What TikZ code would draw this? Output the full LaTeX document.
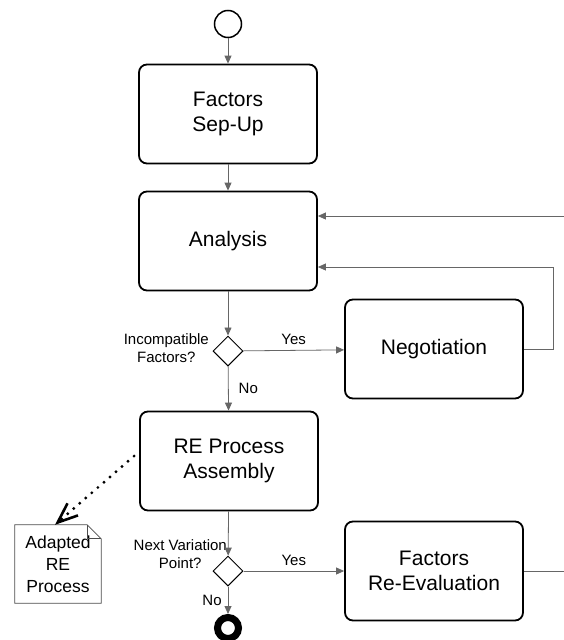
\documentclass[tikz,border=0pt]{standalone}
\usepackage{fontspec}
\setmainfont{Liberation Sans}
\usetikzlibrary{arrows.meta,shapes.geometric}
\begin{document}
\begin{tikzpicture}[x=1pt, y=-1pt, >={Triangle[length=8pt,width=7pt]}]
\useasboundingbox (0,0) rectangle (564,640);
\tikzstyle{every node} = [align=center, font=\fontsize{21}{25}\selectfont]
\tikzstyle{task} = [draw=black, line width=1.8pt, rounded corners=8pt, minimum width=178pt, minimum height=99pt, inner sep=0pt]
\tikzstyle{gate} = [draw=black, line width=1pt, diamond, minimum size=30pt, inner sep=0pt]
\tikzstyle{flow} = [->, draw=black!60, line width=0.8pt]
\tikzstyle{lbl} = [font=\fontsize{15}{18}\selectfont, inner sep=2pt]
\node[circle, draw, line width=1.5pt, minimum size=27pt, inner sep=0pt] (0) at (228,24) {};
\node[task] (1) at (228,114) {Factors\\Sep-Up};
\node[task] (2) at (228,241) {Analysis};
\node[gate] (3) at (228,351) {};
\node[task] (4) at (434,349) {Negotiation};
\node[task] (5) at (229,461) {RE Process\\Assembly};
\node[gate] (6) at (228,571) {};
\node[task] (7) at (434,571) {Factors\\Re-Evaluation};
\node[circle, draw, line width=7pt, minimum size=21pt, inner sep=0pt] (8) at (228,628) {};
\node[minimum width=86pt, minimum height=78pt, inner sep=0pt, font=\fontsize{17.5}{22}\selectfont] (9) at (58,564) {Adapted\\RE\\Process};
\node[lbl, anchor=east] (3l) at (211,348) {Incompatible\\Factors?};
\node[lbl, anchor=east] (6l) at (229,554) {Next Variation\\Point?};
\coordinate (r1) at (564,216);
\coordinate (r2) at (564,571);
\draw[black!70, line width=0.8pt] (9.south west) -- (9.north west) -- ([xshift=-14pt]9.north east) -- ([yshift=-14pt]9.north east) -- (9.south east) -- cycle;
\draw[black!70, line width=0.8pt] ([xshift=-14pt]9.north east) -- ([xshift=-14pt,yshift=-14pt]9.north east) -- ([yshift=-14pt]9.north east);
\draw[flow] (0) -- (1);
\draw[flow] (1) -- (2);
\draw[flow] (2) -- (3);
\draw[flow] (3) -- node[lbl, above=3pt]{Yes} (4);
\draw[flow] (3) -- node[lbl, right=8pt]{No} (5);
\draw[flow] (4.east) -- ++(29,0) |- ([yshift=-26pt]2.east);
\draw[flow] (r1) -- (2.east |- r1);
\draw[flow] (5) -- (6);
\draw[flow] (6) -- node[lbl, above=3pt]{Yes} (7);
\draw[flow] (6) -- node[lbl, left=4pt]{No} (8);
\draw[black!60, line width=0.8pt] (7) -- (r2);
\draw[line width=3.2pt, dash pattern=on 0pt off 8pt, line cap=round, -{Straight Barb[length=20pt, width=16pt, line width=2.6pt]}] ([xshift=-5pt,yshift=5pt]5.west) -- ([xshift=-3pt]9.north);
\end{tikzpicture}
\end{document}
